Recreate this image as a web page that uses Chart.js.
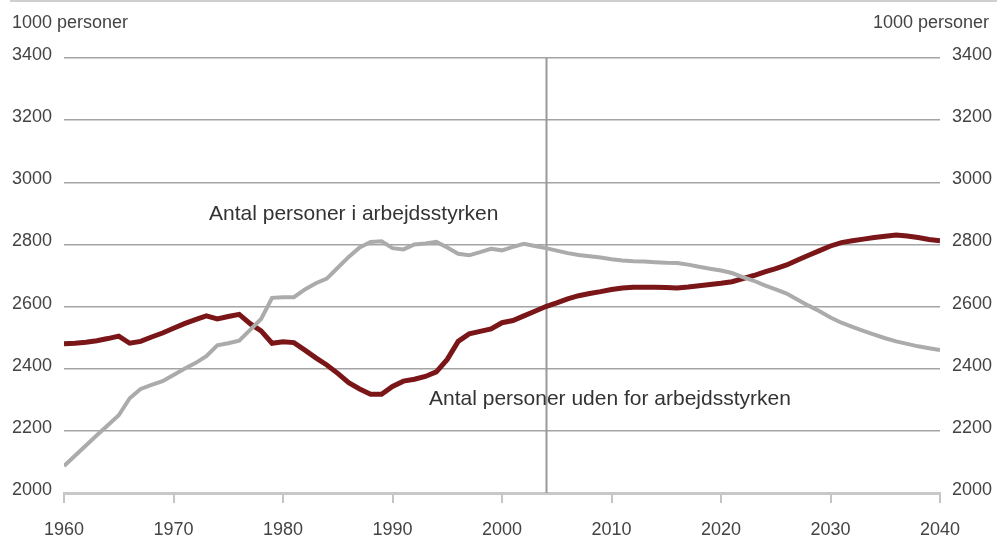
<!DOCTYPE html>
<html lang="da">
<head>
<meta charset="utf-8">
<title>Arbejdsstyrken 1960-2040</title>
<script src="https://cdn.jsdelivr.net/npm/chart.js@4/dist/chart.umd.min.js"></script>
<style>
  html, body { margin: 0; padding: 0; background: #fff; }
  #wrap { width: 997px; height: 555px; }
</style>
</head>
<body>
<div id="wrap"><canvas id="workforceChart" width="997" height="555"></canvas></div>
<script>
// Årstal 1960-2040
const years = [];
for (let y = 1960; y <= 2040; y++) years.push(y);

// Antal personer i arbejdsstyrken (1000 personer)
const laborForce = [
    2087, 2120, 2153, 2186, 2218, 2250, 2305, 2335, 2348, 2360,
    2380, 2400, 2418, 2440, 2475, 2482, 2490, 2525, 2560, 2628,
    2630, 2630, 2655, 2675, 2690, 2725, 2760, 2790, 2808, 2810,
    2788, 2784, 2800, 2803, 2808, 2790, 2770, 2765, 2775, 2786,
    2781, 2792, 2802, 2795, 2788, 2780, 2772, 2766, 2762, 2758,
    2752, 2748, 2746, 2745, 2743, 2741, 2740, 2735, 2728, 2722,
    2716, 2708, 2695, 2683, 2668, 2655, 2642, 2622, 2603, 2585,
    2565, 2548, 2535, 2522, 2510, 2498, 2488, 2480, 2472, 2466,
    2460
];

// Antal personer uden for arbejdsstyrken (1000 personer)
const outsideLaborForce = [
    2480, 2482, 2485, 2490, 2497, 2505, 2482, 2488, 2502, 2515,
    2530, 2545, 2558, 2570, 2560, 2568, 2575, 2545, 2522, 2482,
    2487, 2484, 2460, 2435, 2412, 2385, 2355, 2335, 2318, 2318,
    2343, 2360, 2366, 2375, 2390, 2430, 2488, 2512, 2520, 2528,
    2548, 2555, 2570, 2585, 2600, 2612, 2625, 2635, 2642, 2648,
    2655, 2660, 2662, 2662, 2662, 2661, 2660, 2663, 2667, 2671,
    2675, 2680, 2690, 2700, 2712, 2722, 2734, 2750, 2765, 2780,
    2795, 2806, 2812, 2817, 2822, 2826, 2830, 2827, 2822, 2816,
    2812
];

// Skillelinje mellem historik og fremskrivning
const forecastStart = 2004;

const yMin = 2000;
const yMax = 3400;
const yStep = 200;

const FONT = '"Liberation Sans", Arial, Helvetica, sans-serif';
const TEXT_COLOR = '#444';

function toPoints(values) {
    return years.map((yr, i) => ({ x: yr, y: values[i] }));
}

// Lodret linje ved fremskrivningens start + tynd linje øverst
const dividerPlugin = {
    id: 'divider',
    beforeDatasetsDraw(chart) {
        const { ctx, chartArea, scales } = chart;
        const x = Math.round(scales.x.getPixelForValue(forecastStart)) + 0.5;
        ctx.save();
        ctx.strokeStyle = '#9a9a9a';
        ctx.lineWidth = 2;
        ctx.beginPath();
        ctx.moveTo(x, chartArea.top);
        ctx.lineTo(x, chartArea.bottom);
        ctx.stroke();

        ctx.strokeStyle = '#cfcfcf';
        ctx.lineWidth = 2;
        ctx.beginPath();
        ctx.moveTo(10, 1);
        ctx.lineTo(chart.width, 1);
        ctx.stroke();
        ctx.restore();
    }
};

// Enhedstekster og seriebetegnelser
const labelsPlugin = {
    id: 'seriesLabels',
    afterDraw(chart) {
        const { ctx } = chart;
        ctx.save();
        ctx.fillStyle = TEXT_COLOR;
        ctx.textBaseline = 'alphabetic';

        ctx.font = '18px ' + FONT;
        ctx.textAlign = 'left';
        ctx.fillText('1000 personer', 12, 28);
        ctx.textAlign = 'right';
        ctx.fillText('1000 personer', 989, 28);

        ctx.font = '21px ' + FONT;
        ctx.fillStyle = '#333';
        ctx.textAlign = 'left';
        ctx.fillText('Antal personer i arbejdsstyrken', 209, 220);
        ctx.fillText('Antal personer uden for arbejdsstyrken', 429, 405);
        ctx.restore();
    }
};

const yTicks = {
    stepSize: yStep,
    padding: 12,
    labelOffset: -3,
    color: TEXT_COLOR,
    font: { family: FONT, size: 18 },
    callback: function (value) {
        return String(value);
    },
};

new Chart(document.getElementById('workforceChart'), {
    type: 'line',
    data: {
        datasets: [
            {
                label: 'Antal personer i arbejdsstyrken',
                data: toPoints(laborForce),
                borderColor: '#ababab',
                borderWidth: 4,
                pointRadius: 0,
                tension: 0,
                yAxisID: 'y',
            },
            {
                label: 'Antal personer uden for arbejdsstyrken',
                data: toPoints(outsideLaborForce),
                borderColor: '#7a1518',
                borderWidth: 5,
                pointRadius: 0,
                tension: 0,
                yAxisID: 'y',
            },
        ],
    },
    options: {
        responsive: false,
        animation: false,
        devicePixelRatio: 1,
        layout: {
            padding: { top: 58, left: 0, right: 0, bottom: 0 },
        },
        plugins: {
            legend: { display: false },
            tooltip: { enabled: false },
        },
        scales: {
            x: {
                type: 'linear',
                min: 1960,
                max: 2040,
                ticks: {
                    stepSize: 10,
                    padding: 16,
                    color: TEXT_COLOR,
                    font: { family: FONT, size: 18 },
                    maxRotation: 0,
                    callback: function (value) {
                        return String(value);
                    },
                },
                grid: {
                    drawOnChartArea: false,
                    drawTicks: true,
                    tickLength: 10,
                    color: '#c4c4c4',
                    lineWidth: 2,
                },
                border: { display: true, color: '#c8c8c8', width: 3 },
                afterFit: function (scale) {
                    scale.height = 62;
                },
            },
            y: {
                position: 'left',
                min: yMin,
                max: yMax,
                ticks: yTicks,
                grid: {
                    drawTicks: false,
                    lineWidth: 1.5,
                    color: function (context) {
                        return context.tick && context.tick.value === yMin
                            ? 'rgba(0,0,0,0)'
                            : '#a4a4a4';
                    },
                },
                border: { display: false },
                afterFit: function (scale) {
                    scale.width = 64;
                },
            },
            y2: {
                position: 'right',
                min: yMin,
                max: yMax,
                ticks: yTicks,
                grid: { drawOnChartArea: false, drawTicks: false },
                border: { display: false },
                afterFit: function (scale) {
                    scale.width = 57;
                },
            },
        },
    },
    plugins: [dividerPlugin, labelsPlugin],
});
</script>
</body>
</html>
